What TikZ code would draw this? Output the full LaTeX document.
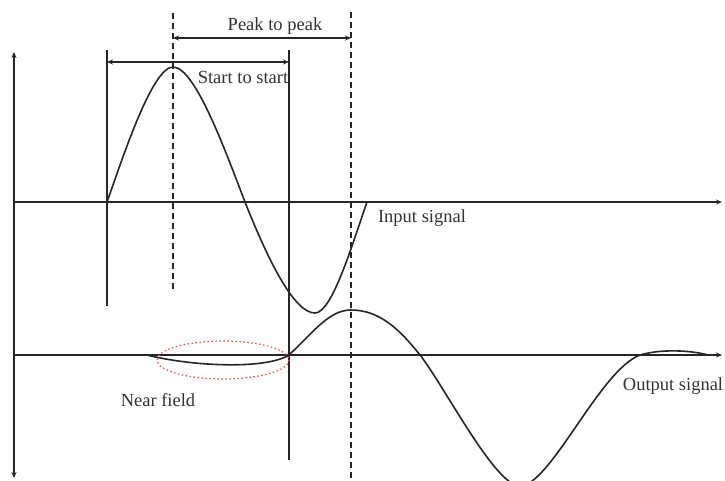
\documentclass[tikz,border=0pt]{standalone}
\usepackage{fontspec}
\setmainfont{Liberation Serif}
\usetikzlibrary{arrows.meta}
\begin{document}
\begin{tikzpicture}[x=1pt,y=-1pt,
  ln/.style={line width=1.6pt,black!85},
  dsh/.style={ln,dash pattern=on 6pt off 4pt},
  dim/.style={ln,{Stealth[length=6pt,width=5pt]}-{Stealth[length=6pt,width=5pt]}},
  ax/.style={ln,-{Stealth[length=6pt,width=5pt]}},
  lbl/.style={font=\fontsize{18.5}{20}\selectfont,text=black!80,inner sep=0pt},
  nf/.style={red!70,line width=1.2pt,dash pattern=on 1.5pt off 2.5pt}]
\useasboundingbox (0,0) rectangle (725,480);
\begin{scope}
\clip (0,0) rectangle (725,480);
% coordinates
\coordinate (ytop) at (14,52);
\coordinate (ybot) at (14,478);
\coordinate (i0) at (14,202);
\coordinate (i1) at (722,202);
\coordinate (o0) at (14,355);
\coordinate (o1) at (722,355);
\coordinate (a0) at (107,50);
\coordinate (a1) at (107,306);
\coordinate (b0) at (173,13);
\coordinate (b1) at (173,291);
\coordinate (c0) at (289,50);
\coordinate (c1) at (289,460);
\coordinate (d0) at (351,12);
\coordinate (d1) at (351,480);
\coordinate (s0) at (107,62);
\coordinate (s1) at (289,62);
\coordinate (p0) at (173,38);
\coordinate (p1) at (351,38);
% axes
\draw[ln,{Stealth[length=6pt,width=5pt]}-{Stealth[length=6pt,width=5pt]}] (ybot) -- (ytop);
\draw[ax] (i0) -- (i1);
\draw[ax] (o0) -- (o1);
% verticals
\draw[ln] (a0) -- (a1);
\draw[dsh] (b0) -- (b1);
\draw[ln] (c0) -- (c1);
\draw[dsh] (d0) -- (d1);
% dimension arrows
\draw[dim] (s0) -- (s1);
\draw[dim] (p0) -- (p1);
% input signal
\draw[ln] (107,202) .. controls (122,160) and (152,67) .. (173,67)
  .. controls (195,67) and (225,150) .. (245,202)
  .. controls (270,265) and (295,313) .. (315,313)
  .. controls (332,313) and (352,245) .. (367,202);
% output signal
\draw[ln] (147,355) .. controls (190,366) and (265,370) .. (289,355)
  .. controls (315,330) and (330,310) .. (351,310)
  .. controls (380,310) and (400,330) .. (420,355)
  .. controls (445,387) and (495,486) .. (520,486)
  .. controls (550,486) and (600,370) .. (640,355)
  .. controls (660,349) and (690,350) .. (708,355);
\end{scope}
% near field ellipse
\draw[nf] (223,360) ellipse [x radius=66, y radius=19];
% labels
\node[lbl] (lpp) at (275,26) {Peak to peak};
\node[lbl] (lss) at (243,77) {Start to start};
\node[lbl] (lin) at (422,218) {Input signal};
\node[lbl] (lnf) at (158,400) {Near field};
\node[lbl] (lout) at (673,386) {Output signal};
\end{tikzpicture}
\end{document}
